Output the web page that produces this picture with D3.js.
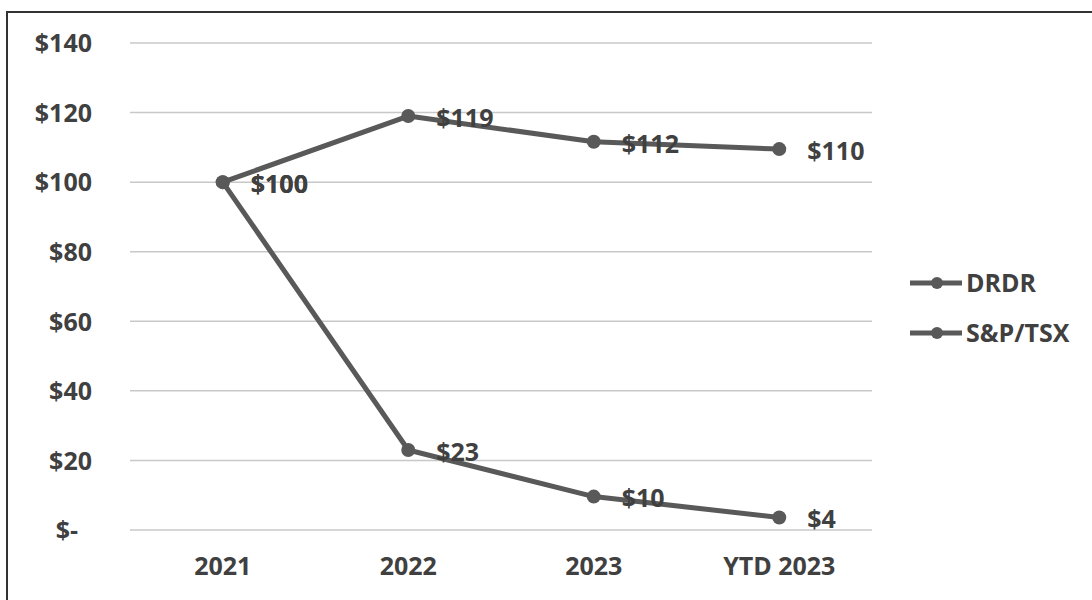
<!DOCTYPE html>
<html><head><meta charset="utf-8">
<script src="https://cdn.jsdelivr.net/npm/d3@7"></script>
<style>body{margin:0;background:#fff;} text{font-family:"Open Sans",sans-serif;font-weight:700;fill:#404040;}</style>
</head><body>
<svg id="c" width="1092" height="600"></svg>
<script>
const categories = ["2021", "2022", "2023", "YTD 2023"];
const seriesNames = ["DRDR", "S&P/TSX"];
const drdrValues = [100, 23, 9.6, 3.6];
const tsxValues = [100, 119, 111.6, 109.5];
const yTicks = [0, 20, 40, 60, 80, 100, 120, 140];

const FS = "25px";
const svg = d3.select("#c");
svg.append("rect").attr("x", 7).attr("y", 12).attr("width", 1100).attr("height", 620)
  .attr("fill", "none").attr("stroke", "#333").attr("stroke-width", 2);

const x = d3.scaleBand().domain(categories).range([130, 872]);
const y = d3.scaleLinear().domain([0, 140]).range([530, 43]);
const cx = c => x(c) + x.bandwidth() / 2;

const fmt = v => v === 0 ? "$-" : "$" + Math.round(v);

// gridlines
svg.append("g").selectAll("line").data(yTicks).join("line")
  .attr("x1", 130).attr("x2", 872).attr("y1", d => y(d)).attr("y2", d => y(d))
  .attr("stroke", "#c8c8c8").attr("stroke-width", 1.5);

// y axis
const yAxis = svg.append("g").attr("transform", "translate(92,0)")
  .call(d3.axisLeft(y).tickValues(yTicks).tickFormat(d => d === 0 ? "$-" : "$" + d).tickSize(0).tickPadding(0));
yAxis.select(".domain").remove();
yAxis.selectAll("text").style("font-size", FS).attr("dy", "0.35em").attr("fill", "#404040");
yAxis.selectAll("text").filter(d => d === 0).attr("dx", -14);

// x axis
const xAxis = svg.append("g").attr("transform", "translate(0,530)")
  .call(d3.axisBottom(x).tickSize(0).tickPadding(27));
xAxis.select(".domain").remove();
xAxis.selectAll("text").style("font-size", FS).attr("fill", "#404040");

const color = "#595959";
const series = [
  {name: seriesNames[0], values: drdrValues},
  {name: seriesNames[1], values: tsxValues}
];
const line = d3.line().x((d, i) => cx(categories[i])).y(d => y(d));

series.forEach(s => {
  svg.append("path").datum(s.values).attr("d", line)
    .attr("fill", "none").attr("stroke", color).attr("stroke-width", 5).attr("stroke-linejoin", "round");
  svg.append("g").selectAll("circle").data(s.values).join("circle")
    .attr("cx", (d, i) => cx(categories[i])).attr("cy", d => y(d)).attr("r", 7).attr("fill", color);
});
series.forEach(s => {
  svg.append("g").selectAll("text").data(s.values).join("text")
    .attr("x", (d, i) => cx(categories[i]) + 28).attr("y", d => y(d) + 2)
    .attr("dy", "0.35em").style("font-size", FS).text(d => fmt(d));
});

// legend
const leg = svg.append("g");
series.forEach((s, i) => {
  const ly = 283 + i * 50;
  leg.append("line").attr("x1", 910).attr("x2", 962).attr("y1", ly).attr("y2", ly)
    .attr("stroke", color).attr("stroke-width", 5);
  leg.append("circle").attr("cx", 937).attr("cy", ly).attr("r", 6).attr("fill", color);
  leg.append("text").attr("x", 966).attr("y", ly).attr("dy", "0.35em").style("font-size", FS).text(s.name);
});
</script>
</body></html>
